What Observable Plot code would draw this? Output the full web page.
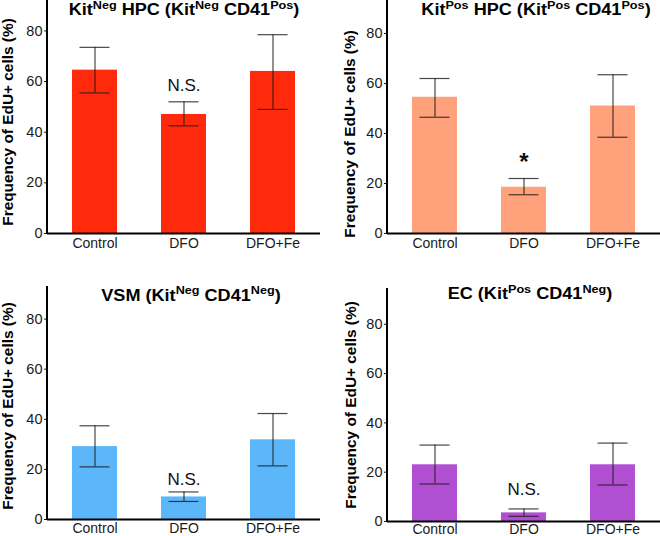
<!DOCTYPE html>
<html><head><meta charset="utf-8">
<script src="https://cdn.jsdelivr.net/npm/d3@7"></script>
<script src="https://cdn.jsdelivr.net/npm/@observablehq/plot@0.6"></script>
<style>
body{margin:0;background:#fff;font-family:"Liberation Sans",Arial,sans-serif}
#wrap{position:relative;width:660px;height:536px;overflow:hidden;background:#fff}
.panel{position:absolute;width:330px;height:268px}
.panel svg{position:absolute;left:0;top:0}
.title{position:absolute;font-weight:bold;font-size:16px;white-space:nowrap;transform:translate(-50%,-50%) scaleX(1.13);color:#000;line-height:1}
.title sup{font-size:0.7em;position:relative;top:-0.55em;vertical-align:baseline;line-height:0}
.ylab{position:absolute;font-weight:bold;font-size:14px;white-space:nowrap;transform:translate(-50%,-50%) rotate(-90deg) scaleX(1.1);color:#000;line-height:1}
</style>
</head><body>
<div id="wrap"></div>
<script>
// ---- data ----
const groups = ["Control", "DFO", "DFO+Fe"];
const yTicks = [0, 20, 40, 60, 80];
const yLabel = "Frequency of EdU+ cells (%)";

const titles = [
  'Kit<sup>Neg</sup> HPC (Kit<sup>Neg</sup> CD41<sup>Pos</sup>)',
  'Kit<sup>Pos</sup> HPC (Kit<sup>Pos</sup> CD41<sup>Pos</sup>)',
  'VSM (Kit<sup>Neg</sup> CD41<sup>Neg</sup>)',
  'EC (Kit<sup>Pos</sup> CD41<sup>Neg</sup>)'
];

const kitNegHpcMean = [64.5, 47, 64];
const kitNegHpcLow  = [55.5, 42.5, 49];
const kitNegHpcHigh = [73.5, 52, 78.5];

const kitPosHpcMean = [54.5, 18.5, 51];
const kitPosHpcLow  = [46.5, 15.5, 38.5];
const kitPosHpcHigh = [62, 22, 63.5];

const vsmMean = [29.1, 9, 31.8];
const vsmLow  = [21, 7.2, 21.4];
const vsmHigh = [37.4, 11, 42.3];

const ecMean = [23, 3.5, 23];
const ecLow  = [15.2, 2.1, 14.8];
const ecHigh = [31, 5.1, 31.8];

const annotText = ["N.S.", "*", "N.S.", "N.S."];
const annotGroup = ["DFO", "DFO", "DFO", "DFO"];
const annotY = [58.5, 28.5, 15.9, 13];

const colors = ["#fe2a0b", "#ffa27c", "#5cb6fa", "#b04fd2"];

// ---- layout ----
const panels = [
  {left:0,   top:0,   mean:kitNegHpcMean, lo:kitNegHpcLow, hi:kitNegHpcHigh, ml:47, mr:10, mt:0,  mb:35, ymax:92,   pad:5, tx:184, ty:10,  lx:8,  ly:122},
  {left:330, top:0,   mean:kitPosHpcMean, lo:kitPosHpcLow, hi:kitPosHpcHigh, ml:57, mr:0,  mt:0,  mb:35, ymax:93.2, pad:5, tx:206, ty:10,  lx:20, ly:134},
  {left:0,   top:268, mean:vsmMean,       lo:vsmLow,       hi:vsmHigh,       ml:47, mr:10, mt:18, mb:17, ymax:93,   pad:3.5, tx:191, ty:27.5,lx:8,  ly:138},
  {left:330, top:268, mean:ecMean,        lo:ecLow,        hi:ecHigh,        ml:57, mr:0,  mt:20, mb:15, ymax:94.5, pad:2.5, tx:200, ty:26,  lx:21, ly:137}
];

const wrap = document.getElementById("wrap");
const font = '"Liberation Sans", Arial, sans-serif';

panels.forEach((p, k) => {
  const data = groups.map((g, i) => ({group: g, mean: p.mean[i], lo: p.lo[i], hi: p.hi[i]}));
  const annot = [{group: annotGroup[k], y: annotY[k], text: annotText[k]}];
  const isStar = annotText[k] === "*";
  const errStyle = {stroke: "#1a1a1a", strokeWidth: 1.2, strokeOpacity: 0.8};
  const chart = Plot.plot({
    width: 330, height: 268,
    marginLeft: p.ml, marginRight: p.mr, marginTop: p.mt, marginBottom: p.mb,
    style: {fontFamily: font, fontSize: "14px", color: "#1a1a1a", background: "transparent", overflow: "visible"},
    x: {domain: groups, paddingInner: 0.5, paddingOuter: 0.27, label: null},
    y: {domain: [0, p.ymax], label: null},
    marks: [
      Plot.barY(data, {x: "group", y: "mean", fill: colors[k]}),
      Plot.ruleX(data, {x: "group", y1: "lo", y2: "hi", ...errStyle}),
      Plot.tickY(data, {x: "group", y: "lo", insetLeft: 7.5, insetRight: 7.5, ...errStyle}),
      Plot.tickY(data, {x: "group", y: "hi", insetLeft: 7.5, insetRight: 7.5, ...errStyle}),
      Plot.text(annot, {x: "group", y: "y", text: "text", fontSize: isStar ? 24 : 17, fontWeight: isStar ? "bold" : "normal", fill: "#111"}),
      Plot.ruleY([0], {stroke: "#000", strokeWidth: 2}),
      Plot.axisY({ticks: yTicks, tickSize: 3, tickPadding: 2, fontSize: 14.5, tickFormat: d => String(d), label: null}),
      Plot.axisX({tickSize: 0, tickPadding: p.pad, fontSize: 14, label: null})
    ]
  });
  const xs = chart.scale("x"), ys = chart.scale("y");
  d3.select(chart).append("line")
    .attr("x1", xs.range[0]).attr("x2", xs.range[0])
    .attr("y1", ys.range[0] + 1).attr("y2", ys.range[1])
    .attr("stroke", "#000").attr("stroke-width", 2);

  const div = document.createElement("div");
  div.className = "panel";
  div.style.left = p.left + "px";
  div.style.top = p.top + "px";
  div.appendChild(chart);

  const t = document.createElement("div");
  t.className = "title";
  t.innerHTML = titles[k];
  t.style.left = p.tx + "px";
  t.style.top = p.ty + "px";
  div.appendChild(t);

  const l = document.createElement("div");
  l.className = "ylab";
  l.textContent = yLabel;
  l.style.left = p.lx + "px";
  l.style.top = p.ly + "px";
  div.appendChild(l);

  wrap.appendChild(div);
});
</script>
</body></html>
